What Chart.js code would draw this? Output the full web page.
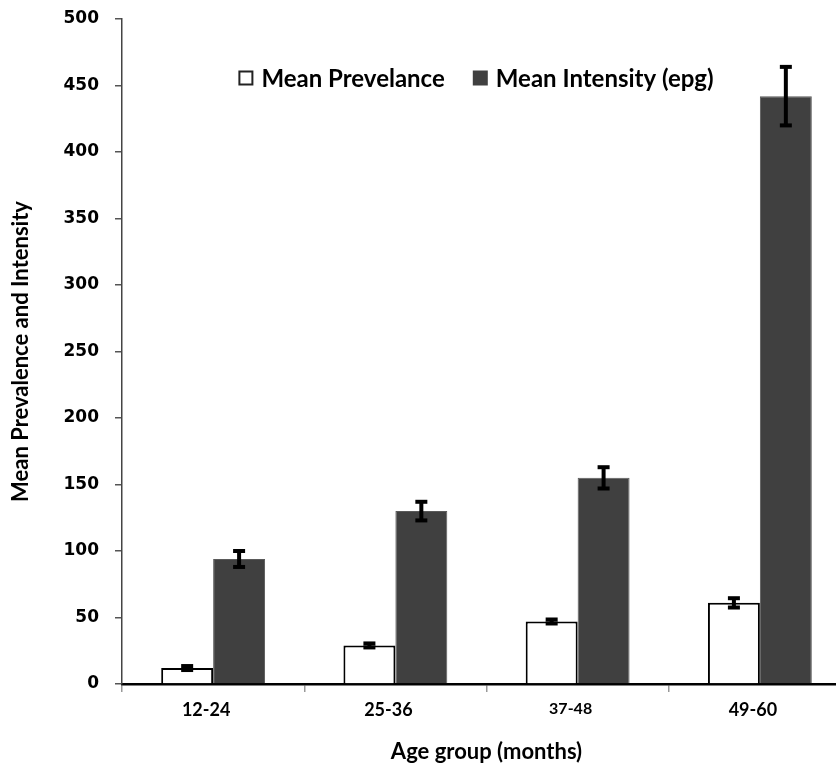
<!DOCTYPE html>
<html>
<head>
<meta charset="utf-8">
<script src="https://cdn.jsdelivr.net/npm/chart.js@4/dist/chart.umd.min.js"></script>
<style>
  html, body { margin: 0; padding: 0; background: #fff; overflow: hidden; }
  #wrap { width: 836px; height: 765px; overflow: hidden; position: relative; }
  canvas { display: block; }
</style>
</head>
<body>
<div id="wrap"><canvas id="c" width="870" height="765"></canvas></div>
<script>
// ---- data ----
const categories = ["12-24", "25-36", "37-48", "49-60"];
const prevalence = [12, 29, 47, 61];
const prevalenceErr = [1.5, 1.5, 1.5, 3.5];
const intensity = [94, 130, 155, 442];
const intensityErr = [6, 7, 8, 22];
const seriesNames = ["Mean Prevelance", "Mean Intensity (epg)"];
const yTicks = [0, 50, 100, 150, 200, 250, 300, 350, 400, 450, 500];
const xTitle = "Age group (months)";
const yTitle = "Mean Prevalence and Intensity";

const errors = [prevalenceErr, intensityErr];

const errorBarPlugin = {
  id: 'errorBars',
  afterDatasetsDraw(chart) {
    const ctx = chart.ctx;
    const yScale = chart.scales.y;
    ctx.save();
    ctx.strokeStyle = '#000';
    ctx.fillStyle = '#000';
    chart.data.datasets.forEach((ds, di) => {
      const meta = chart.getDatasetMeta(di);
      meta.data.forEach((bar, i) => {
        const v = ds.data[i], e = errors[di][i];
        const yTop = yScale.getPixelForValue(v + e);
        const yBot = yScale.getPixelForValue(v - e);
        const x = bar.x;
        ctx.lineWidth = 4;
        ctx.beginPath();
        ctx.moveTo(x, yTop);
        ctx.lineTo(x, yBot);
        ctx.stroke();
        ctx.fillRect(x - 6, yTop - 2, 12, 4);
        ctx.fillRect(x - 6, yBot - 2, 12, 4);
      });
    });
    ctx.restore();
  }
};

const legendPlugin = {
  id: 'innerLegend',
  afterDraw(chart) {
    const ctx = chart.ctx;
    ctx.save();
    ctx.font = 'bold 24px Lato';
    ctx.textBaseline = 'middle';
    const box = 15, gap = 8, sep = 28;
    const w0 = ctx.measureText(seriesNames[0]).width;
    const w1 = ctx.measureText(seriesNames[1]).width;
    const total = box + gap + w0 + sep + box + gap + w1;
    const cx = 476, cy = 78;
    let x = cx - total / 2;
    ctx.fillStyle = '#fff';
    ctx.strokeStyle = '#222';
    ctx.lineWidth = 2;
    ctx.fillRect(x, cy - box / 2, box, box);
    ctx.strokeRect(x + 1, cy - box / 2 + 1, box - 2, box - 2);
    x += box + gap;
    ctx.fillStyle = '#000';
    ctx.fillText(seriesNames[0], x, cy + 1);
    x += w0 + sep;
    ctx.fillStyle = '#404040';
    ctx.fillRect(x, cy - box / 2, box, box);
    x += box + gap;
    ctx.fillStyle = '#000';
    ctx.fillText(seriesNames[1], x, cy + 1);
    ctx.restore();
  }
};

new Chart(document.getElementById('c'), {
  type: 'bar',
  data: {
    labels: categories,
    datasets: [
      {
        label: seriesNames[0],
        data: prevalence,
        backgroundColor: '#ffffff',
        borderColor: '#000000',
        borderWidth: 2,
        categoryPercentage: 0.57,
        barPercentage: 1.0
      },
      {
        label: seriesNames[1],
        data: intensity,
        backgroundColor: '#404040',
        borderColor: '#5a5a5a',
        borderWidth: 1,
        categoryPercentage: 0.57,
        barPercentage: 1.0
      }
    ]
  },
  options: {
    responsive: false,
    animation: false,
    layout: { padding: { top: 19, right: 19, left: 0, bottom: 0 } },
    plugins: {
      legend: { display: false },
      tooltip: { enabled: false }
    },
    scales: {
      x: {
        afterFit(s) { s.height = 81; s.paddingLeft = 0; s.paddingRight = 0; },
        grid: { drawOnChartArea: false, drawTicks: true, tickLength: 8, color: '#999', lineWidth: 1.5 },
        border: { display: true, color: '#000', width: 2.5 },
        ticks: {
          color: '#000',
          padding: 7,
          labelOffset: -7,
          font: (ctx) => ({ family: 'Lato', weight: 'bold', size: ctx.index === 2 ? 16 : 18 })
        },
        title: {
          display: true,
          text: xTitle,
          color: '#000',
          font: { family: 'Lato', weight: 'bold', size: 22 },
          padding: { top: 0, bottom: 0 }
        }
      },
      y: {
        min: 0,
        max: 500,
        afterFit(s) { s.width = 122; s.paddingTop = 0; s.paddingBottom = 0; },
        afterBuildTicks(s) { s.ticks = yTicks.map(v => ({ value: v })); },
        grid: { drawOnChartArea: false, drawTicks: true, tickLength: 7, color: '#555', lineWidth: 1.5 },
        border: { display: true, color: '#444', width: 1.5 },
        ticks: {
          color: '#000',
          padding: 16,
          font: { family: 'DejaVu Sans', weight: 'bold', size: 17 }
        },
        title: {
          display: true,
          text: yTitle,
          color: '#000',
          font: { family: 'Lato', weight: 'bold', size: 22 },
          padding: { top: 8, bottom: 0 }
        }
      }
    }
  },
  plugins: [errorBarPlugin, legendPlugin]
});
</script>
</body>
</html>
